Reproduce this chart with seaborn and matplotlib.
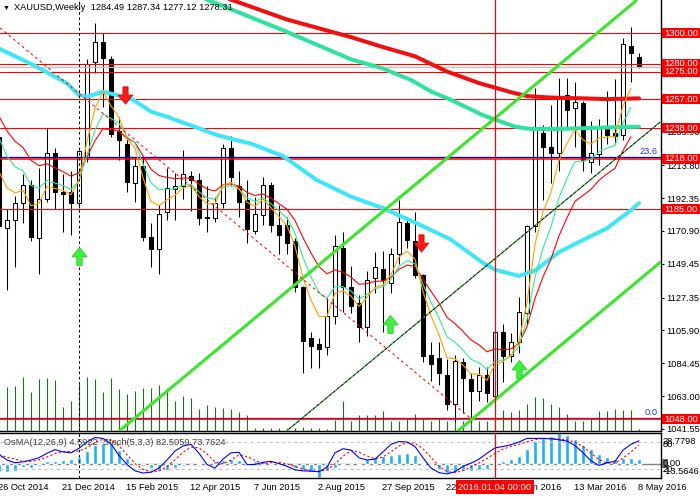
import numpy as np
import pandas as pd
import seaborn as sns
import matplotlib
matplotlib.use("Agg")
import matplotlib.pyplot as plt
import matplotlib.transforms as mtransforms
from matplotlib.path import Path
from matplotlib.patches import Rectangle

# XAUUSD weekly bars, bar 0 = week of 26 Oct 2014, last bar = 8 May 2016
opens = [1232, 1173, 1178, 1189, 1201, 1166, 1192, 1222, 1196, 1196,
         1189, 1219, 1281, 1294, 1283, 1236, 1228, 1202, 1213, 1167,
         1159, 1183, 1198, 1200, 1207, 1204, 1180, 1179, 1189, 1225,
         1200, 1191, 1171, 1181, 1201, 1175, 1175, 1164, 1134, 1101,
         1097, 1095, 1115, 1160, 1134, 1124, 1108, 1140, 1146, 1137,
         1156, 1176, 1164, 1142, 1090, 1088, 1077, 1058, 1085, 1074,
         1066, 1077, 1063, 1105, 1089, 1098, 1117, 1174, 1235, 1226,
         1222, 1260, 1251, 1254.5, 1216, 1221, 1239.5, 1235, 1233.5, 1292,
         1284.49]
highs = [1234, 1185, 1194, 1208, 1204, 1212, 1238, 1225, 1208, 1210,
         1224, 1283, 1307, 1300, 1285, 1245, 1232, 1219, 1220, 1176,
         1188, 1212, 1209, 1224, 1210, 1209, 1200, 1193, 1228, 1233,
         1210, 1204, 1193, 1206, 1203, 1188, 1180, 1166, 1135, 1105,
         1101, 1127, 1168, 1170, 1148, 1129, 1145, 1157, 1158, 1160,
         1191, 1180, 1183, 1143, 1098, 1098, 1087, 1090, 1088, 1078,
         1082, 1082, 1106, 1110, 1104, 1128, 1175, 1264, 1240, 1253,
         1271, 1271, 1268, 1256, 1243, 1244, 1262, 1270, 1297, 1304,
         1287.34]
lows = [1161, 1132, 1147, 1176, 1164, 1143, 1190, 1185, 1170, 1168,
        1186, 1216, 1274, 1252, 1232, 1217, 1196, 1190, 1164, 1147,
        1143, 1178, 1178, 1192, 1184, 1175, 1170, 1177, 1186, 1200,
        1180, 1163, 1169, 1175, 1170, 1156, 1156, 1131, 1078, 1081,
        1081, 1090, 1110, 1118, 1117, 1098, 1102, 1130, 1105, 1130,
        1149, 1160, 1140, 1085, 1073, 1070, 1054, 1046, 1052, 1046,
        1060, 1059, 1061, 1072, 1085, 1091, 1110, 1170, 1191, 1202,
        1210, 1238, 1226, 1210, 1209, 1214, 1228, 1228, 1230, 1268,
        1277.12]
closes = [1174, 1178, 1189, 1201, 1167, 1192, 1222, 1196, 1195, 1189,
          1223, 1280, 1294, 1284, 1234, 1230, 1203, 1213, 1167, 1159,
          1182, 1199, 1200, 1208, 1204, 1179, 1179, 1189, 1225, 1206,
          1190, 1172, 1182, 1201, 1175, 1168, 1163, 1134, 1099, 1096,
          1094, 1115, 1161, 1134, 1122, 1108, 1139, 1147, 1139, 1156,
          1177, 1165, 1142, 1089, 1084, 1078, 1058, 1086, 1075, 1066,
          1077, 1065, 1105, 1089, 1098, 1118, 1174, 1238, 1226, 1222,
          1259, 1250, 1255, 1217, 1222, 1239.5, 1233.5, 1233, 1293, 1287,
          1278.31]
# tick volume (thousands)
volumes = [40, 44, 45, 54, 39, 52, 53, 51, 24, 30,
           47, 54, 52, 39, 53, 42, 37, 40, 43, 43,
           46, 43, 30, 35, 33, 22, 26, 24, 23, 22,
           19, 16, 3, 3, 3, 3, 3, 3, 4, 3,
           3, 2, 11, 30, 10, 16, 16, 16, 20, 10,
           10, 12, 17, 12, 10, 12, 10, 10, 10, 16,
           10, 10, 12, 21, 19, 21, 27, 34, 33, 27,
           24, 17, 10, 10, 12, 20, 20, 22, 21, 21,
           2]
osma = [-8.3, -8.3, -7.3, -3.3, -4, -2.3, 2, 2.7, 3.7, 4.3, 6, 11.7, 17.7, 19.3, 18.3, 12.7, 5, 1, -2.3, -4, -7.3, -6.3, -4, -2.3,
        -0.5, 0.5, 1, 2, 3.7, 4.3, 3.3, 1, 2, 2, 1, 0.3, -0.7, -4, -5.7, -7.3, -13.56, -7.3, -4, -1.7, -0.7, -1.7,
        4.3, 6, 6.7, 7.7, 9.3, 10.3, 8.3, 0.3, -1.7, -5, -9, -8.3, -6.7, -7.3, -5.7, -5, 0.5, 2.7, 4.3, 7, 13.3,
        21, 24.3, 26, 28.78, 27, 22.7, 17.7, 13.3, 9.3, 6, 4.3, 5.3, 5.3, 4.59]
stoch_main = [52, 40, 34, 36, 40, 45, 55, 63, 58, 56, 66, 80, 90, 88, 76, 50, 30, 16, 11, 13, 22, 40, 60, 71, 75, 55, 30, 22, 42, 56,
              57, 30, 30, 35, 37, 32, 26, 18, 16, 15, 14, 24, 56, 65,
              62, 45, 40, 42, 58, 75, 81, 80, 70, 45, 22, 12, 9, 14, 26, 33, 42, 55, 67, 70, 74, 80, 88, 88, 88, 87, 85, 82,
              72, 56, 38, 28, 34, 37, 62, 75, 82.5]

# slow moving averages (bar index, price)
ma_red_x = [22, 29, 36, 44, 48, 52, 56, 60, 64, 66, 69, 73, 76, 80]
ma_red_y = [1335, 1322, 1309, 1297.5, 1291, 1285, 1275, 1267.5, 1261.5, 1259, 1258, 1257.5, 1257, 1257.5]
ma_green_x = [20, 26, 35.5, 44, 48, 51.5, 54, 56.5, 60.5, 64.5, 66.5, 70, 73, 76, 80]
ma_green_y = [1335, 1322, 1302, 1283, 1277, 1269.5, 1262, 1256.5, 1246.5, 1239, 1237.5, 1237.5, 1238, 1238.5, 1239]
ma_cyan_x = [-1, 0, 4.3, 8.5, 10, 11, 13, 14.7, 16.8, 19, 21, 23, 25, 27.2, 29.3, 31.4, 35.5, 39.7, 44, 48, 52.2,
             56.4, 60.5, 62, 65, 67, 70, 73, 76, 79, 80]
ma_cyan_y = [1293, 1290, 1279.3, 1267.3, 1259.5, 1258.6, 1261.8, 1259.7, 1256.4, 1248.8, 1245.5, 1241.6, 1237.9, 1233.6,
             1230.7, 1228.1, 1219.8, 1204.2, 1193.3, 1185.7, 1175.9, 1165.5, 1150, 1145.5, 1141.5, 1145, 1157, 1165,
             1172.6, 1184.5, 1189]
# fast EMAs: (span, value at bar 0)
ema_fast = (5, 1209.6)
ema_mid = (8, 1231.6)
ema_slow = (13, 1245.9)

# levels and drawn objects
levels = [1300, 1280, 1275, 1257, 1238, 1218, 1185, 1048]
fib_levels = [1219.0, 1048.9]
fib_names = ['23.6', '0.0']
bid = 1278.31
price_ticks = [1041.55, 1063.00, 1084.45, 1105.90, 1127.35, 1149.45, 1170.90, 1192.35,
               1213.80, 1235.90, 1257.35, 1278.80, 1300.25]
channel_up = ([14.875, 79.75], [1039.5, 1321.8])
channel_low = ([57.2, 82.75], [1039.5, 1150.8])
trend_mid = ([36.0, 82.6], [1040.4, 1241.8])
trend_down = ([0.125, 58.9], [1303.5, 1048.7])
down_arrows = ([15.8, 52.8], [1259.7, 1162.7])
up_arrows = ([10, 48.9, 65], [1154.5, 1110.1, 1080.7])
vline_black = 10
vline_red = 62

date_bars = [0, 8, 16, 24, 32, 40, 48, 56, 64, 72, 80]
date_labels = ['26 Oct 2014', '21 Dec 2014', '15 Feb 2015', '12 Apr 2015', '7 Jun 2015', '2 Aug 2015',
               '27 Sep 2015', '22 Nov 2015', '17 Jan 2016', '13 Mar 2016', '8 May 2016']

sns.set_theme(style="white")
plt.rcParams['font.family'] = ['Liberation Sans', 'DejaVu Sans']
FS = 6.7

W, H = 700, 499
fig = plt.figure(figsize=(W / 100, H / 100), dpi=100)
fig.patch.set_facecolor('white')


def fx(x):
    return x / W


def fy(y):
    return 1 - y / H


ax = fig.add_axes([0, fy(431), fx(661), 431 / H])
sub = fig.add_axes([0, fy(478), fx(661), 45 / H])
xlim = (0.125, 82.75)
ax.set_xlim(*xlim)
ax.set_ylim(1040.16, 1321.76)

bars = np.arange(len(closes))

# volume behind the price panel
vol_ax = ax.twinx()
vol_ax.set_ylim(0, max(volumes) * 8)
vol_ax.vlines(bars, 0, volumes, color='#1f6f1f', lw=0.8)
vol_ax.set_yticks([])
for s in vol_ax.spines.values():
    s.set_visible(False)
ax.set_zorder(vol_ax.get_zorder() + 1)
ax.patch.set_visible(False)

# candles
ax.vlines(bars, lows, highs, color='black', lw=0.75, zorder=3)
body_bottom = np.minimum(opens, closes)
body_h = np.maximum(np.abs(np.subtract(closes, opens)), 0.7)
face = ['white' if c >= o else 'black' for o, c in zip(opens, closes)]
ax.bar(bars, body_h, bottom=body_bottom, width=0.62, color=face, edgecolor='black', linewidth=0.75, zorder=3.5)

# horizontal levels
ax.axhline(bid, color='#c0c0c0', lw=0.9, zorder=4)
for lv in fib_levels:
    ax.axhline(lv, color='#0000cc', lw=0.9, zorder=4)
for lv in levels:
    lw = 1.1 if lv in (1218, 1048) else 0.8
    ax.axhline(lv, color='#ff0000', lw=lw, zorder=4.1)
blend = mtransforms.blended_transform_factory(ax.transAxes, ax.transData)
for lv, nm in zip(fib_levels, fib_names):
    ax.annotate(nm, xy=(1, lv), xycoords=blend, xytext=(-2.5, 0.8), textcoords='offset points',
                ha='right', va='bottom', color='#3030ff', fontsize=FS)

# slow MAs
sns.lineplot(x=ma_red_x, y=ma_red_y, ax=ax, color='#ee1111', lw=2.9, zorder=5)
sns.lineplot(x=ma_green_x, y=ma_green_y, ax=ax, color='#2fe2a0', lw=2.9, zorder=5)
sns.lineplot(x=ma_cyan_x, y=ma_cyan_y, ax=ax, color='#3fe6f6', lw=2.9, zorder=5)

# fast EMAs, drawn up to the previous bar
close_s = pd.Series(closes, dtype=float)
for (span, seed), col in [(ema_slow, '#ff0000'), (ema_mid, '#33e89a'), (ema_fast, '#ffa000')]:
    s = close_s.copy()
    s.iloc[0] = seed
    e = s.ewm(span=span, adjust=False).mean()
    sns.lineplot(x=bars[:-1], y=e.values[:-1], ax=ax, color=col, lw=0.8, zorder=6)

# trend lines / channel
ax.plot(*channel_up, color='#38e62a', lw=2.2, zorder=7, solid_capstyle='butt')
ax.plot(*channel_low, color='#38e62a', lw=2.2, zorder=7, solid_capstyle='butt')
ax.plot(*trend_mid, color='black', lw=0.75, zorder=7)
ax.plot(*trend_mid, color='#38e62a', lw=0.75, ls=(0, (2, 3)), zorder=7.1)
ax.plot(*trend_down, color='#ff0000', lw=0.75, ls=(0, (2.5, 3)), zorder=7)

# vertical lines
for a in (ax, sub):
    a.axvline(vline_black, color='black', lw=0.75, ls=(0, (2.5, 2.5)), zorder=7)
    a.axvline(vline_red, color='#ff0000', lw=0.9, zorder=7)

# arrows
down_path = Path([(-0.3, 1.0), (0.3, 1.0), (0.3, 0.05), (0.85, 0.05), (0.0, -1.0),
                  (-0.85, 0.05), (-0.3, 0.05), (-0.3, 1.0)], closed=True)
up_path = Path([(x, -y) for x, y in down_path.vertices], closed=True)
ax.plot(*down_arrows, ls='none', marker=down_path, markersize=12.5, markerfacecolor='#ff1a1a',
        markeredgecolor='#d00000', markeredgewidth=0.5, zorder=8)
ax.plot(*up_arrows, ls='none', marker=up_path, markersize=13, markerfacecolor='#3cf03c',
        markeredgecolor='#22c822', markeredgewidth=0.5, zorder=8)

# axes styling
ax.set_xticks([])
ax.set_yticks(price_ticks)
ax.set_yticklabels([f'{v:.2f}' for v in price_ticks])
ax.yaxis.tick_right()
ax.tick_params(axis='y', which='both', right=True, left=False, labelright=True, labelleft=False,
               length=2.5, width=0.75, pad=1.5, labelsize=FS, colors='black')
ax.spines['top'].set_visible(False)
ax.spines['left'].set_visible(False)
ax.spines['right'].set_color('black')
ax.spines['bottom'].set_color('black')
ax.spines['right'].set_linewidth(1)
ax.spines['bottom'].set_linewidth(1)
ax.set_xlabel('')
ax.set_ylabel('')


def main_py(v):
    return H - ax.transData.transform((0, v))[1]


for k, lv in enumerate(levels):
    y = main_py(lv)
    fig.add_artist(Rectangle((fx(662), fy(y + 5)), 38 / W, 10 / H, transform=fig.transFigure,
                             facecolor='#ff0000', edgecolor='none', zorder=10 + 2 * k))
    fig.text(fx(664), fy(y), f'{lv:.2f}', color='white', va='center', ha='left', fontsize=FS,
             zorder=11 + 2 * k)

# oscillator panel
sub.set_xlim(*xlim)
sub.set_ylim(0, 100)
osma_ax = sub.twinx()
osma_ax.set_ylim(-13.5646, 28.7798)
osma_ax.bar(bars, osma, width=0.42, color='#1eb0f0', zorder=2)
osma_ax.axhline(0, color='#808080', lw=1, zorder=1)
osma_ax.set_yticks([])
for s in osma_ax.spines.values():
    s.set_visible(False)
sub.set_zorder(osma_ax.get_zorder() + 1)
sub.patch.set_visible(False)
sub.axhline(80, color='#c0c0c0', lw=0.75, ls=(0, (3, 3)))
sub.axhline(20, color='#c0c0c0', lw=0.75, ls=(0, (3, 3)))
signal = pd.Series(stoch_main, dtype=float).rolling(3, min_periods=1).mean()
sub.plot(bars, signal, color='#ff0000', lw=0.8, ls=(0, (2, 2)), zorder=3)
sns.lineplot(x=bars, y=stoch_main, ax=sub, color='#0000ff', lw=0.8, zorder=4)
sub.set_xticks([])
sub.set_yticks([])
sub.set_xlabel('')
sub.set_ylabel('')
sub.spines['left'].set_visible(False)
for side in ('top', 'bottom', 'right'):
    sub.spines[side].set_color('black')
    sub.spines[side].set_linewidth(1)

fig.text(fx(4), fy(442.5), 'OsMA(12,26,9) 4.5922  Stoch(5,3,3) 82.5059 73.7624', color='#404040',
         fontsize=FS, va='center', ha='left')
fig.add_artist(Rectangle((fx(662), fy(468)), 6 / W, 9 / H, transform=fig.transFigure,
                         facecolor='#707070', edgecolor='none', zorder=9))
for txt, yy in [('28.7798', 441.5), ('80', 444.5), ('0.00', 463.5), ('20', 469), ('-13.5646', 472)]:
    fig.text(fx(663), fy(yy), txt, color='black', fontsize=FS, va='center', ha='left', zorder=10)

# date axis
dblend = mtransforms.blended_transform_factory(sub.transData, fig.transFigure)
for b, lab in zip(date_bars, date_labels):
    sub.text(b - 1 / 8, fy(488), lab, transform=dblend, ha='left', va='center', fontsize=FS,
             color='black', clip_on=False)
sub.text(vline_red, fy(487), '2016.01.04 00:00', transform=dblend, ha='center', va='center',
         fontsize=FS, color='white', clip_on=False, zorder=12,
         bbox=dict(boxstyle='square,pad=0.22', facecolor='#ff0000', edgecolor='none'))

# title
fig.text(fx(3), fy(8), '\u25bc', fontsize=5, va='center', ha='left', color='black')
fig.text(fx(14), fy(8), 'XAUUSD,Weekly  1284.49 1287.34 1277.12 1278.31', fontsize=FS,
         va='center', ha='left', color='black')

fig.savefig('out.png', dpi=100, facecolor='white')
